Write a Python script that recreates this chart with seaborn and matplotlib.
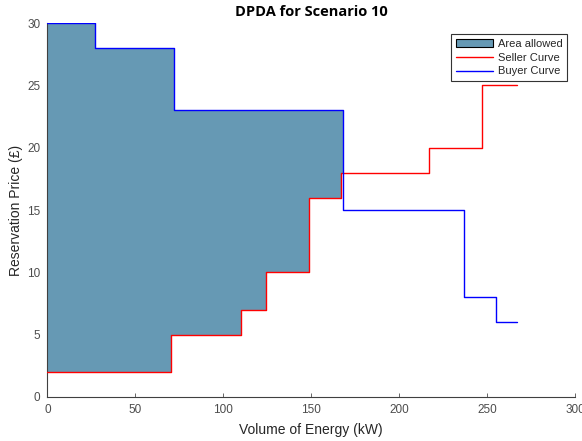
import numpy as np
import pandas as pd
import matplotlib
matplotlib.use("Agg")
import matplotlib.pyplot as plt
import seaborn as sns
from matplotlib.patches import Patch
from matplotlib.lines import Line2D

# Seller offers: cumulative volume where each price block ends, and its price
seller_volume = [0, 70, 110, 124, 149, 167, 217, 247, 267]
seller_price = [2, 5, 7, 10, 16, 18, 20, 25, 25]

# Buyer bids: cumulative volume where each price block ends, and its price
buyer_volume = [0, 27, 72, 168, 237, 255, 267]
buyer_price = [30, 28, 23, 15, 8, 6, 6]

x_ticks = [0, 50, 100, 150, 200, 250, 300]
y_ticks = [0, 5, 10, 15, 20, 25, 30]

sns.set_style("white")
plt.rcParams["font.family"] = ["Liberation Sans", "DejaVu Sans"]

fig = plt.figure(figsize=(5.82, 4.41), dpi=100)
ax = fig.add_axes([0.0816, 0.0998, 0.9064, 0.848])

seller = pd.DataFrame({"volume": seller_volume, "price": seller_price})
buyer = pd.DataFrame({"volume": buyer_volume, "price": buyer_price})


def step_value(xs, ys, x):
    idx = np.searchsorted(xs, x, side="right") - 1
    return ys[min(idx, len(ys) - 1)]


# Region where buyers bid above sellers' asks
grid = sorted(set(seller_volume) | set(buyer_volume))
fx, lo, hi = [], [], []
for x in grid:
    s = step_value(seller_volume, seller_price, x)
    b = step_value(buyer_volume, buyer_price, x)
    if b <= s:
        fx.append(x)
        lo.append(lo[-1])
        hi.append(hi[-1])
        break
    fx.append(x)
    lo.append(s)
    hi.append(b)

ax.fill_between(fx, lo, hi, step="post", color="#6699b4", linewidth=0, zorder=1)

sns.lineplot(data=seller, x="volume", y="price", ax=ax, color="#ff0000",
             linewidth=1.0, drawstyle="steps-post", sort=False,
             estimator=None, zorder=3)
sns.lineplot(data=buyer, x="volume", y="price", ax=ax, color="#0000ff",
             linewidth=1.0, drawstyle="steps-post", sort=False,
             estimator=None, zorder=3)

ax.set_xlim(0, 300)
ax.set_ylim(0, 30)
ax.set_xticks(x_ticks)
ax.set_yticks(y_ticks)
ax.tick_params(direction="in", length=3, width=0.6, colors="#4d4d4d",
               labelsize=8.5, bottom=True, left=True, pad=5)
for side in ("top", "right"):
    ax.spines[side].set_visible(False)
for side in ("left", "bottom"):
    ax.spines[side].set_color("#404040")
    ax.spines[side].set_linewidth(0.8)

ax.set_xlabel("Volume of Energy (kW)", fontsize=10, color="#262626", labelpad=5)
ax.set_ylabel("Reservation Price (£)", fontsize=10, color="#262626", labelpad=3)
ax.set_title("DPDA for Scenario 10", fontsize=10.5, fontweight="bold",
             family=["Open Sans", "DejaVu Sans"], color="#000000", pad=5)

handles = [
    Patch(facecolor="#6699b4", edgecolor="#000000", linewidth=0.8, label="Area allowed"),
    Line2D([], [], color="#ff0000", linewidth=1.0, label="Seller Curve"),
    Line2D([], [], color="#0000ff", linewidth=1.0, label="Buyer Curve"),
]
leg = ax.legend(handles=handles, loc="upper right", bbox_to_anchor=(0.985, 0.97),
                fontsize=8, frameon=True, fancybox=False, framealpha=1,
                edgecolor="#333333", handlelength=3.4, handletextpad=0.4,
                borderpad=0.4, labelspacing=0.35, borderaxespad=0.0)
leg.get_frame().set_linewidth(0.8)

fig.savefig("out.png", dpi=100)
